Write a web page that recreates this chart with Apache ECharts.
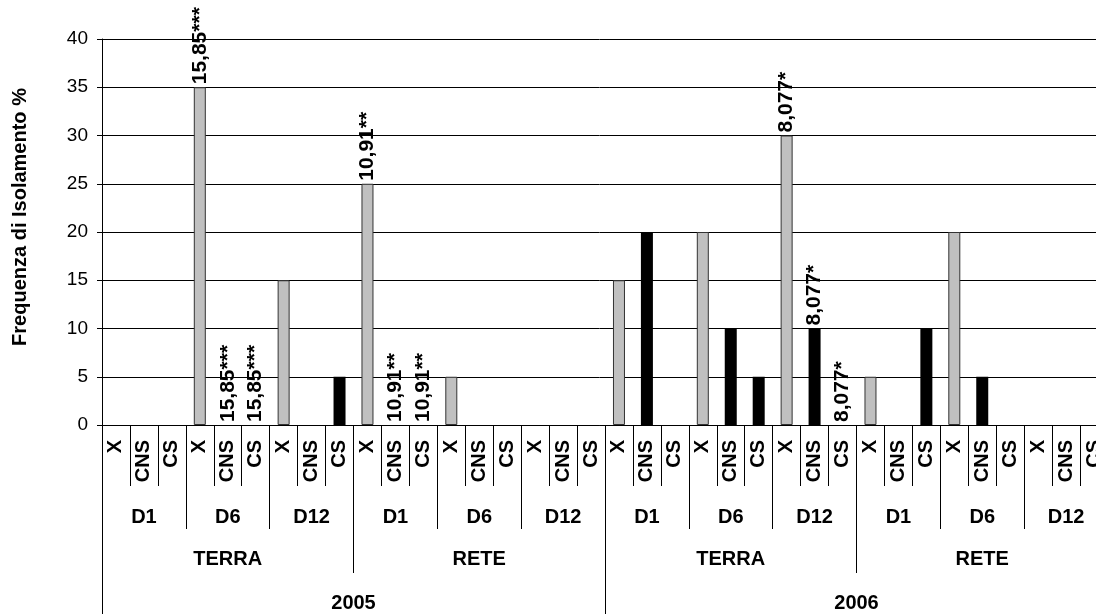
<!DOCTYPE html>
<html>
<head>
<meta charset="utf-8">
<script src="https://cdn.jsdelivr.net/npm/echarts@6/dist/echarts.min.js"></script>
<style>html,body{margin:0;padding:0;background:#fff}#c{width:1096px;height:614px}</style>
</head>
<body>
<div id="c"></div>
<script>
const years = ['2005', '2006'];
const places = ['TERRA', 'RETE'];
const days = ['D1', 'D6', 'D12'];
const types = ['X', 'CNS', 'CS'];
const yTicks = [0, 5, 10, 15, 20, 25, 30, 35, 40];
// Values per slot, order: year > place > day > type
const values = [
  // 2005 TERRA
  0, 0, 0,   35, 0, 0,   15, 0, 5,
  // 2005 RETE
  25, 0, 0,   5, 0, 0,   0, 0, 0,
  // 2006 TERRA
  15, 20, 0,   20, 10, 5,   30, 10, 0,
  // 2006 RETE
  5, 0, 10,   20, 5, 0,   0, 0, 0
];
const barLabels = [
  '', '', '',   '15,85***', '15,85***', '15,85***',   '', '', '',
  '10,91**', '10,91**', '10,91**',   '', '', '',   '', '', '',
  '', '', '',   '', '', '',   '8,077*', '8,077*', '8,077*',
  '', '', '',   '', '', '',   '', '', ''
];

const FONT = 'Liberation Sans, Arial, sans-serif';
const typeCats = [], dayCats = [], placeCats = [];
years.forEach(y => places.forEach(p => {
  placeCats.push(p);
  days.forEach(d => {
    dayCats.push(d);
    types.forEach(t => typeCats.push(t));
  });
}));
const grayData = values.map((v, i) => typeCats[i] === 'X'
  ? { value: v, itemStyle: v === 0 ? { borderWidth: 0 } : {} } : null);
const blackData = values.map((v, i) => typeCats[i] !== 'X' ? v : null);

const labelCfg = {
  show: true,
  position: 'top',
  rotate: 90,
  align: 'left',
  verticalAlign: 'middle',
  distance: 3,
  fontFamily: FONT,
  fontWeight: 'bold',
  fontSize: 21,
  color: '#000',
  formatter: p => barLabels[p.dataIndex]
};

function levelAxis(data, tickLen, margin) {
  return {
    type: 'category',
    data: data,
    position: 'bottom',
    axisLine: { show: false },
    axisTick: { show: true, length: tickLen, interval: 0, alignWithLabel: false, lineStyle: { color: '#000', width: 1 } },
    axisLabel: { interval: 0, margin: margin, fontFamily: FONT, fontWeight: 'bold', fontSize: 20, color: '#000' },
    splitLine: { show: false }
  };
}

const chart = echarts.init(document.getElementById('c'), null, { renderer: 'canvas' });
chart.setOption({
  animation: false,
  backgroundColor: '#fff',
  grid: { left: 102, top: 39, width: 1006, height: 386, outerBoundsMode: 'none', containLabel: false },
  xAxis: [
    {
      type: 'category',
      data: typeCats,
      position: 'bottom',
      axisLine: { show: true, lineStyle: { color: '#000', width: 1 } },
      axisTick: { show: true, length: 61, interval: 0, alignWithLabel: false, lineStyle: { color: '#000', width: 1 } },
      axisLabel: { interval: 0, rotate: 90, margin: 15, fontFamily: FONT, fontWeight: 'bold', fontSize: 20, color: '#000' },
      splitLine: { show: false }
    },
    levelAxis(dayCats, 104, 82),
    levelAxis(placeCats, 148, 124),
    levelAxis(years, 195, 168)
  ],
  yAxis: {
    type: 'value',
    min: 0, max: 40, interval: 5,
    name: 'Frequenza di Isolamento %',
    nameLocation: 'middle',
    nameGap: 72,
    nameTextStyle: { fontFamily: FONT, fontWeight: 'bold', fontSize: 20, color: '#000', padding: [0, 0, 0, 30] },
    axisLine: { show: true, lineStyle: { color: '#000', width: 1 } },
    axisTick: { show: true, length: 5, lineStyle: { color: '#000' } },
    axisLabel: { margin: 14, fontFamily: FONT, fontSize: 19, color: '#000', formatter: v => yTicks.includes(v) ? String(v) : '' },
    splitLine: { show: true, lineStyle: { color: '#000', width: 1 } }
  },
  series: [
    {
      name: 'grigio',
      type: 'bar',
      data: grayData,
      barWidth: 12,
      barGap: '-100%',
      itemStyle: { color: '#c0c0c0', borderColor: '#333', borderWidth: 1 },
      label: labelCfg
    },
    {
      name: 'nero',
      type: 'bar',
      data: blackData,
      barWidth: 12,
      barGap: '-100%',
      itemStyle: { color: '#000' },
      label: labelCfg
    }
  ]
});
</script>
</body>
</html>
